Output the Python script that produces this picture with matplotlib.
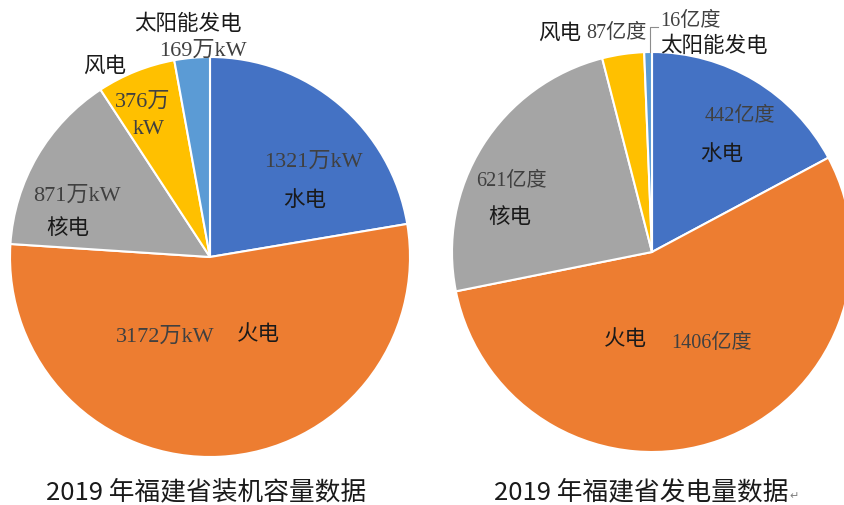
import matplotlib
matplotlib.use("Agg")
import matplotlib.pyplot as plt

plt.rcParams['font.family'] = ['Noto Sans CJK SC', 'DejaVu Sans']

# ---- data ----
categories = ['水电', '火电', '核电', '风电', '太阳能发电']
capacity = [1321, 3172, 871, 376, 169]        # 万kW
generation = [442, 1406, 621, 87, 16]         # 亿度
colors = ['#4472C4', '#ED7D31', '#A5A5A5', '#FFC000', '#5B9BD5']
title_left = '2019 年福建省装机容量数据'
title_right = '2019 年福建省发电量数据'

W, H = 845, 506
fig = plt.figure(figsize=(W / 100, H / 100), dpi=100)
ax = fig.add_axes([0, 0, 1, 1])

def Y(y):
    return H - y

wp = dict(edgecolor='white', linewidth=1.5)
ax.pie(capacity, colors=colors, startangle=90, counterclock=False,
       center=(210, Y(258)), radius=200, wedgeprops=wp)
ax.pie(generation, colors=colors, startangle=90, counterclock=False,
       center=(652, Y(253)), radius=200, wedgeprops=wp)

ax.set_xlim(0, W)
ax.set_ylim(0, H)
ax.set_aspect('equal')
ax.axis('off')

name_kw = dict(family=['Noto Sans CJK SC', 'DejaVu Sans'], fontsize=15.5,
               color='#1a1a1a', ha='center', va='center')
num_kw = dict(family=['Liberation Serif', 'Noto Sans CJK SC'], fontsize=16,
              color='#404040', ha='center', va='center')
num_kw2 = dict(num_kw, fontsize=14.5)

# left pie labels
ax.text(313, Y(162), f'{capacity[0]}万kW', **num_kw)
ax.text(305, Y(200), categories[0], **name_kw)
ax.text(165, Y(337), f'{capacity[1]}万kW', **num_kw)
ax.text(258, Y(334), categories[1], **name_kw)
ax.text(77, Y(196), f'{capacity[2]}万kW', **num_kw)
ax.text(68, Y(228), categories[2], **name_kw)
ax.text(143, Y(102), f'{capacity[3]}万', **num_kw)
ax.text(149, Y(130), 'kW', **num_kw)
ax.text(105, Y(66), categories[3], **name_kw)
ax.text(188, Y(24), categories[4], **name_kw)
ax.text(203, Y(51), f'{capacity[4]}万kW', **num_kw)

# right pie labels
ax.text(740, Y(116), f'{generation[0]}亿度', **num_kw2)
ax.text(722, Y(154), categories[0], **name_kw)
ax.text(625, Y(339), categories[1], **name_kw)
ax.text(712, Y(343), f'{generation[1]}亿度', **num_kw2)
ax.text(511, Y(181), f'{generation[2]}亿度', **num_kw2)
ax.text(510, Y(217), categories[2], **name_kw)
ax.text(560, Y(33), categories[3], **name_kw)
ax.text(616, Y(33), f'{generation[3]}亿度', **num_kw2)
ax.text(690, Y(21), f'{generation[4]}亿度', **num_kw2)
ax.text(714, Y(46), categories[4], **name_kw)
ax.plot([650, 650, 658], [Y(53), Y(28), Y(28)], color='#8c8c8c', lw=0.8)

# titles
title_kw = dict(family=['Noto Sans CJK SC', 'DejaVu Sans'], fontsize=18.5,
                color='#1a1a1a', ha='center', va='center')
ax.text(206, Y(492), title_left, **title_kw)
ax.text(641, Y(492), title_right, **title_kw)
ax.text(789, Y(496), '↵', family=['DejaVu Sans'], fontsize=8, color='#808080',
        ha='left', va='center')

fig.savefig('out.png', dpi=100)
